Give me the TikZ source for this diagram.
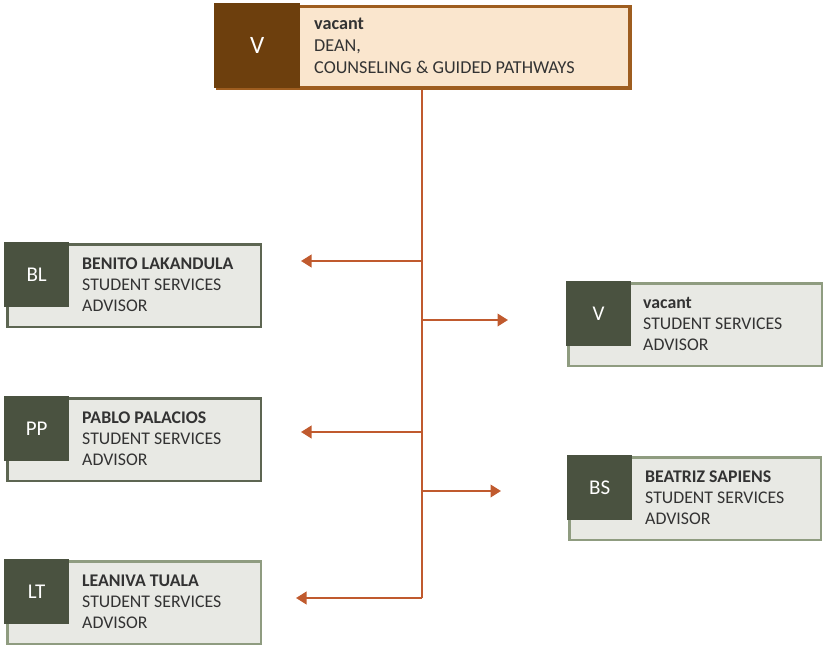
\documentclass[tikz,border=0pt]{standalone}
\usepackage{fontspec}
\setmainfont{Carlito}
\usetikzlibrary{arrows.meta}
\definecolor{deandark}{HTML}{6D3F0D}
\definecolor{deanborder}{HTML}{9E5D1F}
\definecolor{deanfill}{HTML}{FAE6CE}
\definecolor{conn}{HTML}{C05A2E}
\definecolor{cardsq}{HTML}{4A5240}
\definecolor{cardfill}{HTML}{E8E9E4}
\definecolor{borderdark}{HTML}{5D6652}
\definecolor{borderlight}{HTML}{8F9C80}
\definecolor{txt}{HTML}{333333}
\newcommand{\firstline}{\rule{0pt}{12pt}}
\tikzset{
  x=1pt, y=-1pt,
  cardbox/.style={draw=#1, line width=2.5pt, fill=cardfill, rectangle, anchor=north west, inner sep=0pt, minimum width=253.5pt, minimum height=82.5pt},
  cardsqr/.style={fill=cardsq, rectangle, anchor=north west, inner sep=0pt, minimum width=65pt, minimum height=65pt, text=white, font=\fontsize{21}{21}\selectfont},
  cardtxt/.style={anchor=north west, inner sep=0pt, align=left, text=txt, font=\fontsize{17.8}{21}\selectfont},
  link/.style={draw=conn, line width=2.2pt},
  linkarrow/.style={link, -{Triangle[length=10.5pt,width=12.5pt]}},
}
\begin{document}
\begin{tikzpicture}
\useasboundingbox (0,0) rectangle (823,645);
% dean
\node[draw=deanborder, line width=3.5pt, fill=deanfill, rectangle, anchor=north west, inner sep=0pt, minimum width=412.5pt, minimum height=81.5pt] (dean) at (215.75,4.75) {};
\node[fill=deandark, rectangle, anchor=north west, inner sep=0pt, minimum width=86pt, minimum height=85pt, text=white, font=\fontsize{25}{25}\selectfont] (deansq) at (214,3) {V};
\node[anchor=north west, inner sep=0pt, align=left, text=txt, font=\fontsize{18.2}{21.7}\selectfont] (deantxt) at (314,17.5) {\firstline\textbf{vacant}\\DEAN,\\COUNSELING \& GUIDED PATHWAYS};
% cards
\node[cardbox=borderdark] (bl) at (6.25,243.25) {};
\node[cardsqr] (blsq) at (4,242) {BL};
\node[cardtxt] (bltxt) at (82,257) {\firstline\textbf{BENITO LAKANDULA}\\STUDENT SERVICES\\ADVISOR};
\node[cardbox=borderdark] (pp) at (6.25,397.25) {};
\node[cardsqr] (ppsq) at (4,396) {PP};
\node[cardtxt] (pptxt) at (82,411) {\firstline\textbf{PABLO PALACIOS}\\STUDENT SERVICES\\ADVISOR};
\node[cardbox=borderlight] (lt) at (6.25,560.25) {};
\node[cardsqr] (ltsq) at (4,559) {LT};
\node[cardtxt] (lttxt) at (82,574.5) {\firstline\textbf{LEANIVA TUALA}\\STUDENT SERVICES\\ADVISOR};
\node[cardbox=borderlight] (va) at (567.25,282.25) {};
\node[cardsqr] (vasq) at (566,281) {V};
\node[cardtxt] (vatxt) at (643,296.5) {\firstline\textbf{vacant}\\STUDENT SERVICES\\ADVISOR};
\node[cardbox=borderlight, minimum width=251.5pt] (bs) at (568.25,456.25) {};
\node[cardsqr] (bssq) at (567,455) {BS};
\node[cardtxt] (bstxt) at (645,470.5) {\firstline\textbf{BEATRIZ SAPIENS}\\STUDENT SERVICES\\ADVISOR};
% connectors
\coordinate (j1) at (422,261);
\coordinate (j2) at (422,320);
\coordinate (j3) at (422,432);
\coordinate (j4) at (422,491);
\coordinate (j5) at (422,598);
\coordinate (e1) at (301,261);
\coordinate (e2) at (508,320);
\coordinate (e3) at (301,432);
\coordinate (e4) at (501,491);
\coordinate (e5) at (296,598);
\draw[link] (dean.south -| j1) -- (j5);
\draw[linkarrow] (j1) -- (e1);
\draw[linkarrow] (j2) -- (e2);
\draw[linkarrow] (j3) -- (e3);
\draw[linkarrow] (j4) -- (e4);
\draw[linkarrow] (j5) -- (e5);
\end{tikzpicture}
\end{document}
